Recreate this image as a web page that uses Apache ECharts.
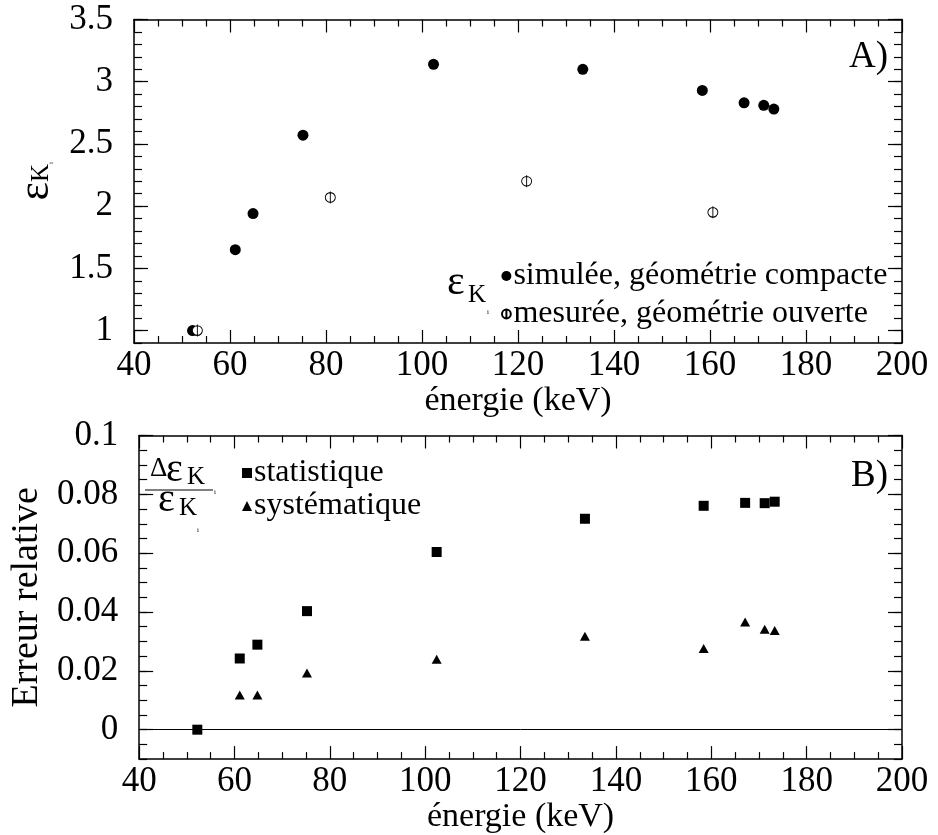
<!DOCTYPE html>
<html>
<head>
<meta charset="utf-8">
<script src="https://cdn.jsdelivr.net/npm/echarts@6/dist/echarts.min.js"></script>
<style>
html,body{margin:0;padding:0;background:#fff;}
#chart{width:938px;height:835px;}
</style>
</head>
<body>
<div id="chart"></div>
<script>
// ---- data ----
const energy = [52.2, 61.1, 64.8, 75.2, 102.4, 133.5, 158.4, 167.1, 171.2, 173.3];
const effSimulated = [1.00, 1.65, 1.94, 2.57, 3.14, 3.10, 2.93, 2.83, 2.81, 2.78];
const energyMeasured = [53.2, 80.9, 121.8, 160.6];
const effMeasured = [1.00, 2.07, 2.20, 1.95];
const errStat = [0.000, 0.0242, 0.0289, 0.0403, 0.0604, 0.0717, 0.0761, 0.0771, 0.0770, 0.0775];
const energySys = [61.1, 64.8, 75.2, 102.4, 133.5, 158.4, 167.1, 171.2, 173.3];
const errSys = [0.0118, 0.0118, 0.0193, 0.0239, 0.0318, 0.0276, 0.0366, 0.0341, 0.0337];
const effTicks = [1, 1.5, 2, 2.5, 3, 3.5];
const errTicks = [0, 0.02, 0.04, 0.06, 0.08, 0.1];
const seriesNames = ['simulée, géométrie compacte', 'mesurée, géométrie ouverte', 'statistique', 'systématique'];
const xTitle = 'énergie (keV)';
const yTitleB = 'Erreur relative';

const FONT = 'Liberation Serif';
const BLACK = '#000';
const phiSymbol = 'path://M2,12 A8,8 0 1,1 18,12 A8,8 0 1,1 2,12 Z M10,2 L10,22';

function pair(xs, ys) { return xs.map((x, i) => [x, ys[i]]); }

function xAxes(grid, withName) {
  const common = {
    type: 'value', gridIndex: grid, min: 40, max: 200, interval: 20,
    axisLine: { show: true, onZero: false, lineStyle: { color: BLACK, width: 1.5 } },
    splitLine: { show: false },
    minorSplitLine: { show: false }
  };
  return [
    Object.assign({}, common, {
      position: 'bottom',
      axisTick: { show: true, inside: true, length: 13, lineStyle: { color: BLACK, width: 1.2 } },
      minorTick: { show: true, splitNumber: 4, length: 7, lineStyle: { color: BLACK, width: 1.2 } },
      axisLabel: { show: true, color: BLACK, fontFamily: FONT, fontSize: 35, margin: 5 },
      name: withName ? xTitle : '',
      nameLocation: 'middle', nameGap: 34,
      nameTextStyle: { color: BLACK, fontFamily: FONT, fontSize: 34 }
    }),
    Object.assign({}, common, {
      position: 'top',
      axisTick: { show: true, inside: true, length: 13, lineStyle: { color: BLACK, width: 1.2 } },
      minorTick: { show: true, splitNumber: 4, length: 7, lineStyle: { color: BLACK, width: 1.2 } },
      axisLabel: { show: false }
    })
  ];
}

function yAxes(grid, min, max, majors, minorInterval, nameCfg) {
  const base = {
    type: 'value', gridIndex: grid, min: min, max: max,
    splitLine: { show: false }, minorSplitLine: { show: false }
  };
  const major = (pos, labels) => Object.assign({}, base, {
    position: pos,
    axisLine: { show: true, onZero: false, lineStyle: { color: BLACK, width: 1.5 } },
    axisTick: { show: true, inside: true, length: 14, customValues: majors, lineStyle: { color: BLACK, width: 1.2 } },
    axisLabel: labels ? { show: true, customValues: majors, color: BLACK, fontFamily: FONT, fontSize: 35, margin: 21 } : { show: false }
  });
  const minor = (pos) => Object.assign({}, base, {
    position: pos, interval: minorInterval,
    axisLine: { show: false },
    axisTick: { show: true, inside: true, length: 8, lineStyle: { color: BLACK, width: 1.2 } },
    axisLabel: { show: false }
  });
  const left = major('left', true);
  Object.assign(left, nameCfg);
  return [left, minor('left'), major('right', false), minor('right')];
}

const option = {
  backgroundColor: '#fff',
  animation: false,
  textStyle: { fontFamily: FONT, color: BLACK },
  grid: [
    { left: 134, width: 768, top: 19.5, height: 323.5 },
    { left: 134, width: 768, top: 435.5, height: 324.5 }
  ],
  xAxis: [].concat(xAxes(0, true), xAxes(1, true)),
  yAxis: [].concat(
    yAxes(0, 0.9, 3.5, effTicks, 0.1, {
      name: '{e|ε}{k|K}{i|i}',
      nameLocation: 'middle', nameRotate: 90, nameGap: 74,
      nameTextStyle: {
        color: BLACK, fontFamily: FONT,
        rich: {
          e: { fontSize: 44, fontFamily: FONT, color: BLACK, lineHeight: 36 },
          k: { fontSize: 25, fontFamily: FONT, color: BLACK, verticalAlign: 'bottom' },
          i: { fontSize: 7, fontFamily: FONT, color: BLACK, verticalAlign: 'bottom' }
        }
      }
    }),
    yAxes(1, -0.01, 0.1, errTicks, 0.005, {
      name: yTitleB,
      nameLocation: 'middle', nameRotate: 90, nameGap: 86,
      nameTextStyle: { color: BLACK, fontFamily: FONT, fontSize: 38 }
    })
  ),
  legend: [
    {
      data: [seriesNames[0], seriesNames[1]],
      orient: 'vertical', left: 496, top: 255,
      itemWidth: 10, itemHeight: 11, itemGap: 6,
      textStyle: { color: BLACK, fontFamily: FONT, fontSize: 32, padding: [0, 0, 0, -3] },
      selectedMode: false
    },
    {
      data: [seriesNames[2], seriesNames[3]],
      orient: 'vertical', left: 237, top: 452,
      itemWidth: 10, itemHeight: 10, itemGap: 1,
      textStyle: { color: BLACK, fontFamily: FONT, fontSize: 32, padding: [0, 0, 0, -3] },
      selectedMode: false
    }
  ],
  series: [
    {
      name: seriesNames[0], type: 'scatter', xAxisIndex: 0, yAxisIndex: 0,
      symbol: 'circle', symbolSize: 11,
      itemStyle: { color: BLACK, opacity: 1 },
      data: pair(energy, effSimulated)
    },
    {
      name: seriesNames[1], type: 'scatter', xAxisIndex: 0, yAxisIndex: 0,
      symbol: phiSymbol, symbolSize: [10, 12],
      itemStyle: { color: '#fff', borderColor: BLACK, borderWidth: 1, opacity: 1 },
      data: pair(energyMeasured, effMeasured)
    },
    {
      name: seriesNames[2], type: 'scatter', xAxisIndex: 2, yAxisIndex: 4,
      symbol: 'rect', symbolSize: 10, z: 5,
      itemStyle: { color: BLACK, opacity: 1 },
      data: pair(energy, errStat),
      markLine: {
        silent: true, symbol: ['none', 'none'], z: 1,
        label: { show: false },
        lineStyle: { color: BLACK, width: 1, type: 'solid', opacity: 1 },
        data: [{ yAxis: 0 }]
      }
    },
    {
      name: seriesNames[3], type: 'scatter', xAxisIndex: 2, yAxisIndex: 4,
      symbol: 'triangle', symbolSize: [10, 9],
      itemStyle: { color: BLACK, opacity: 1 },
      data: pair(energySys, errSys)
    }
  ],
  graphic: [
    { type: 'text', x: 888, y: 57, style: { text: 'A)', fill: BLACK, font: '37px "Liberation Serif"', align: 'right', verticalAlign: 'middle' } },
    { type: 'text', x: 888, y: 476, style: { text: 'B)', fill: BLACK, font: '37px "Liberation Serif"', align: 'right', verticalAlign: 'middle' } },
    // legend prefix in panel A
    { type: 'text', x: 447, y: 283, style: { text: 'ε', fill: BLACK, font: '42px "Liberation Serif"', align: 'left', verticalAlign: 'middle' } },
    { type: 'text', x: 468, y: 295, style: { text: 'K', fill: BLACK, font: '25px "Liberation Serif"', align: 'left', verticalAlign: 'middle' } },
    { type: 'text', x: 487, y: 312, style: { text: 'i', fill: BLACK, font: '7px "Liberation Serif"', align: 'left', verticalAlign: 'middle' } },
    // fraction in panel B
    { type: 'text', x: 150, y: 469, style: { text: 'Δ', fill: BLACK, font: '27px "Liberation Serif"', align: 'left', verticalAlign: 'middle' } },
    { type: 'text', x: 166, y: 470, style: { text: 'ε', fill: BLACK, font: '40px "Liberation Serif"', align: 'left', verticalAlign: 'middle' } },
    { type: 'text', x: 187, y: 477, style: { text: 'K', fill: BLACK, font: '25px "Liberation Serif"', align: 'left', verticalAlign: 'middle' } },
    { type: 'text', x: 214, y: 492, style: { text: 'i', fill: BLACK, font: '7px "Liberation Serif"', align: 'left', verticalAlign: 'middle' } },
    { type: 'line', shape: { x1: 145, y1: 490, x2: 213, y2: 490 }, style: { stroke: BLACK, lineWidth: 1 } },
    { type: 'text', x: 158, y: 500, style: { text: 'ε', fill: BLACK, font: '40px "Liberation Serif"', align: 'left', verticalAlign: 'middle' } },
    { type: 'text', x: 179, y: 508, style: { text: 'K', fill: BLACK, font: '25px "Liberation Serif"', align: 'left', verticalAlign: 'middle' } },
    { type: 'text', x: 197, y: 530, style: { text: 'i', fill: BLACK, font: '7px "Liberation Serif"', align: 'left', verticalAlign: 'middle' } }
  ]
};

const chart = echarts.init(document.getElementById('chart'), null, { renderer: 'canvas' });
chart.setOption(option);
</script>
</body>
</html>
